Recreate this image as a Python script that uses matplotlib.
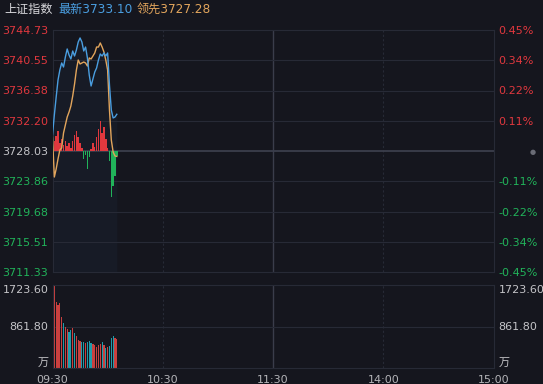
import matplotlib
matplotlib.use("Agg")
import matplotlib.pyplot as plt
import numpy as np

# ---- data ----
prev_close = 3728.03
price_hi = 3744.73
price_lo = 3711.33

minutes = list(range(36))  # minutes since 09:30

latest = [3730.24, 3733.00, 3735.48, 3737.83, 3739.21, 3740.18, 3739.62, 3741.00,
          3742.11, 3741.28, 3740.73, 3741.83, 3741.14, 3741.97, 3743.07, 3743.63,
          3743.07, 3741.83, 3742.38, 3740.87, 3738.52, 3737.00, 3737.97, 3738.93,
          3739.49, 3740.59, 3741.42, 3741.14, 3741.56, 3741.14, 3741.56, 3737.14,
          3733.69, 3732.59, 3732.72, 3733.10]

leading = [3729.96, 3724.44, 3725.55, 3726.93, 3728.17, 3728.45, 3730.52, 3731.62,
           3732.72, 3733.41, 3734.24, 3735.62, 3737.28, 3739.21, 3740.59, 3740.04,
           3740.18, 3740.31, 3740.18, 3739.76, 3740.87, 3740.73, 3741.14, 3741.56,
           3742.38, 3742.38, 3742.94, 3742.38, 3741.69, 3740.59, 3739.21, 3733.69,
           3729.55, 3727.89, 3727.34, 3727.28]

# buy/sell strength bars drawn around the previous close (index points)
strength = [0.4, 1.4, 2.1, 2.8, 1.1, 1.7, 0.8, 1.4, 0.7, 1.1, 0.4, 1.4, 2.2, 2.8,
            1.9, 1.1, 0.4, -1.1, -0.6, -2.5, -0.8, 0.3, 1.1, 0.6, 1.9, 3.0, 4.1,
            2.5, 3.3, 1.7, 0.4, -1.4, -6.3, -4.8, -3.4, -0.7]

# volume, in 万
volume = [748, 1723.6, 1371, 1309, 1350, 1059, 935, 852, 810, 748, 789, 831, 727,
          665, 582, 561, 540, 540, 519, 540, 561, 519, 498, 478, 436, 478, 498,
          540, 478, 415, 436, 457, 623, 665, 623, 602]
vol_max = 1723.6

time_ticks = [0, 60, 120, 180, 240]
time_labels = ["09:30", "10:30", "11:30", "14:00", "15:00"]

index_name = "上证指数"

# ---- style ----
BG = "#15161e"
GRID = "#272a36"
RED = "#e0383e"
GREEN = "#21b35a"
NEUTRAL = "#c4c4c8"
BLUE = "#4a9ee0"
ORANGE = "#e2a55c"
FONT = ["DejaVu Sans", "Noto Sans CJK SC"]
plt.rcParams["font.family"] = FONT

W, H = 543, 384
fig = plt.figure(figsize=(W / 100, H / 100), dpi=100, facecolor=BG)


def px_axes(x0, y0, x1, y1):
    return fig.add_axes([x0 / W, 1 - y1 / H, (x1 - x0) / W, (y1 - y0) / H])


ax = px_axes(52.5, 30, 493.5, 272)
axv = px_axes(52.5, 285, 493.5, 368)

for a in (ax, axv):
    a.set_facecolor(BG)
    a.set_xlim(0, 240)
    for s in a.spines.values():
        s.set_color(GRID)
        s.set_linewidth(0.8)
    a.tick_params(length=0)
    # vertical session lines
    a.axvline(60, color=GRID, lw=0.8, ls=(0, (2, 2)))
    a.axvline(180, color=GRID, lw=0.8, ls=(0, (2, 2)))
    a.axvline(120, color="#3a3d4b", lw=1.0)

# ---- price panel ----
ax.set_ylim(price_lo, price_hi)
yt = np.linspace(price_lo, price_hi, 9)
for v in yt[1:-1]:
    if abs(v - prev_close) < 1e-6:
        ax.axhline(v, color="#3b3e4c", lw=1.3)
    else:
        ax.axhline(v, color=GRID, lw=0.8)

ax.set_yticks(yt)
ax.set_yticklabels([f"{v:.2f}" for v in yt], fontsize=8)
ax.tick_params(axis="y", pad=3)
for lab, v in zip(ax.get_yticklabels(), yt):
    lab.set_color(RED if v > prev_close + 1e-6 else (GREEN if v < prev_close - 1e-6 else NEUTRAL))

axr = ax.twinx()
axr.set_ylim(price_lo, price_hi)
axr.set_yticks(yt)
pct_labels = []
for v in yt:
    p = (v - prev_close) / prev_close * 100
    pct_labels.append("" if abs(p) < 1e-9 else f"{p:.2f}%")
axr.set_yticklabels(pct_labels, fontsize=8)
axr.tick_params(length=0, pad=3.5)
for lab, v in zip(axr.get_yticklabels(), yt):
    lab.set_color(RED if v > prev_close else GREEN)
for s in axr.spines.values():
    s.set_visible(False)

ax.set_xticks([])

sc = [RED if s >= 0 else GREEN for s in strength]
ax.bar(minutes, strength, bottom=prev_close, width=0.8, color=sc, lw=0,
       antialiased=False, zorder=2)

ax.fill_between(minutes, latest, price_lo, color=BLUE, alpha=0.045, lw=0, zorder=1)
ax.plot(minutes, leading, color=ORANGE, lw=1.0, zorder=3)
ax.plot(minutes, latest, color=BLUE, lw=1.0, zorder=4)

# ---- volume panel ----
axv.set_ylim(0, vol_max)
axv.axhline(vol_max / 2, color=GRID, lw=0.8)
vt = [0, vol_max / 2, vol_max]
vlabels = ["万", f"{vol_max / 2:.2f}", f"{vol_max:.2f}"]
vaxes_r = axv.twinx()
vaxes_r.set_ylim(0, vol_max)
for a, pad in ((axv, 3), (vaxes_r, 3.5)):
    a.set_yticks(vt)
    a.set_yticklabels(vlabels, fontsize=8, color=NEUTRAL)
    a.tick_params(axis="y", length=0, pad=pad)
    for lab, v in zip(a.get_yticklabels(), vt):
        if v == 0:
            lab.set_verticalalignment("bottom")
        elif v == vol_max:
            lab.set_verticalalignment("top")
        else:
            lab.set_verticalalignment("center")
for s in vaxes_r.spines.values():
    s.set_visible(False)

vcol = []
for i, v in enumerate(latest):
    if i == 0:
        vcol.append("#e6d2d2")
    elif v > latest[i - 1]:
        vcol.append("#c9403f")
    elif v < latest[i - 1]:
        vcol.append("#1f9caa")
    else:
        vcol.append("#8a8a90")
axv.bar(minutes, volume, width=0.65, color=vcol, lw=0, zorder=2)

axv.set_xticks(time_ticks)
axv.set_xticklabels(time_labels, fontsize=8, color="#b4b4b8")
axv.tick_params(axis="x", pad=5)

# ---- header ----
fig.text(4 / W, 1 - 9.5 / H, index_name, fontsize=8.7, color="#d8d8dc", va="center", family=FONT)
fig.text(58 / W, 1 - 9.5 / H, f"最新{latest[-1]:.2f}", fontsize=8.7, color=BLUE, va="center", family=FONT)
fig.text(137 / W, 1 - 9.5 / H, f"领先{leading[-1]:.2f}", fontsize=8.7, color=ORANGE, va="center", family=FONT)

fig.text(533 / W, 1 - 152 / H, "●", fontsize=5, color="#6a6c76", ha="center", va="center")

fig.savefig("out.png", dpi=100, facecolor=BG)
